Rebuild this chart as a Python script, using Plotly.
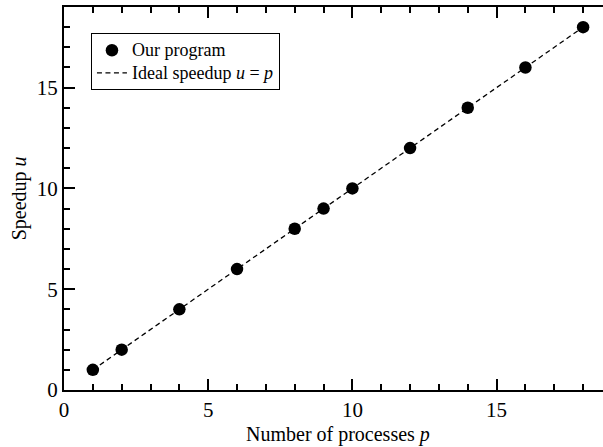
import plotly.graph_objects as go

processes = [1, 2, 4, 6, 8, 9, 10, 12, 14, 16, 18]
speedup = [1, 2, 4, 6, 8, 9, 10, 12, 14, 16, 18]
ideal_x = [1, 18]
ideal_y = [1, 18]
x_ticks = [0, 5, 10, 15]
y_ticks = [0, 5, 10, 15]

FONT = "Liberation Serif"

fig = go.Figure()
fig.add_trace(go.Scatter(
    x=processes, y=speedup, mode="markers",
    name='<span style="font-size:18px">Our program</span>',
    marker=dict(color="black", size=12.5),
))
fig.add_trace(go.Scatter(
    x=ideal_x, y=ideal_y, mode="lines",
    name='<span style="font-size:18px">Ideal speedup <i>u</i> = <i>p</i></span>',
    line=dict(color="black", width=1.3, dash="5px,3.5px"),
))

axis_common = dict(
    showgrid=False, zeroline=False, showline=True, linecolor="black", linewidth=2,
    ticks="inside", ticklen=11, tickwidth=1.5, tickcolor="black",
    tickfont=dict(family=FONT, size=21, color="black"),
)

fig.update_xaxes(
    range=[0, 18.69], tickvals=x_ticks, mirror="allticks",
    minor=dict(dtick=1, tick0=0, ticks="inside", ticklen=6, tickwidth=1.5, tickcolor="black"),
    **axis_common,
)
fig.update_yaxes(
    range=[0, 19], tickvals=y_ticks, mirror=False,
    minor=dict(dtick=1, tick0=0, ticks="inside", ticklen=6, tickwidth=1.5, tickcolor="black"),
    **axis_common,
)

fig.add_annotation(
    text="Number of processes <i>p</i>", x=9.5, xref="x", y=-0.115, yref="paper",
    yanchor="middle", xanchor="center", showarrow=False,
    font=dict(family=FONT, size=20, color="black"),
)
fig.add_annotation(
    text="Speedup <i>u</i>", x=-0.082, xref="paper", y=0.5, yref="paper",
    textangle=-90, xanchor="center", yanchor="middle", showarrow=False,
    font=dict(family=FONT, size=20, color="black"),
)

fig.update_layout(
    width=603, height=447,
    margin=dict(l=64, r=0, t=7, b=57),
    paper_bgcolor="white", plot_bgcolor="white",
    font=dict(family=FONT, color="black"),
    showlegend=True,
    legend=dict(
        x=0.05, y=0.932, xanchor="left", yanchor="top",
        bordercolor="black", borderwidth=1, bgcolor="white",
        font=dict(family=FONT, size=15, color="black"),
        itemwidth=30, tracegroupgap=0,
    ),
)

fig.write_html(
    "out.html",
    config={"displayModeBar": False},
    post_script="document.body.style.margin='0';document.body.style.overflow='hidden';",
)
